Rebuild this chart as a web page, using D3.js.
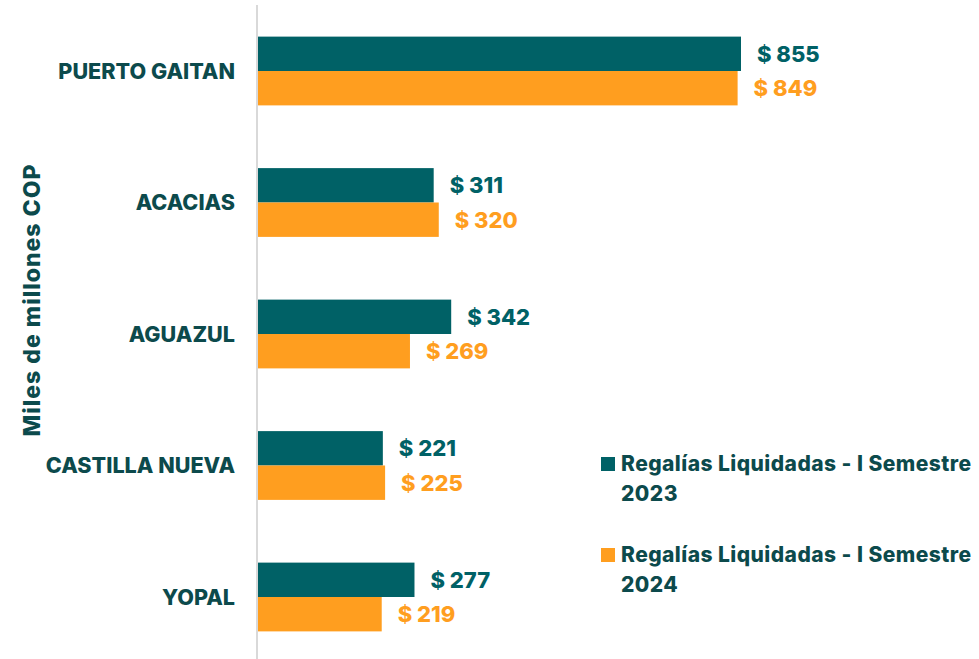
<!DOCTYPE html>
<html lang="en">
<head>
<meta charset="utf-8">
<title>Regalías Liquidadas</title>
<script src="https://d3js.org/d3.v7.min.js"></script>
<style>
  body { margin: 0; background: #ffffff; }
  svg text { font-family: Inter, "Open Sans", sans-serif; font-weight: 800; }
</style>
</head>
<body>
<div id="chart"></div>
<script>
// data
var municipios = ["PUERTO GAITAN", "ACACIAS", "AGUAZUL", "CASTILLA NUEVA", "YOPAL"];
var regalias2023 = [855, 311, 342, 221, 277];
var regalias2024 = [849, 320, 269, 225, 219];
var seriesNames = ["Regalías Liquidadas - I Semestre 2023", "Regalías Liquidadas - I Semestre 2024"];

var width = 979, height = 659;
var teal = "#006166", orange = "#FF9E1F", dark = "#0C4A4C";

var svg = d3.select("#chart").append("svg")
  .attr("width", width)
  .attr("height", height);

var x = d3.scaleLinear()
  .domain([0, 900])
  .range([258, 258 + 900 * 483 / 855]);

var y = d3.scaleBand()
  .domain(municipios)
  .range([5.25, 662.75])
  .paddingInner(0.477)
  .paddingOuter(0.2385);

var sub = d3.scaleBand()
  .domain([0, 1])
  .range([0, y.bandwidth()]);

var colors = [teal, orange];

var rows = municipios.map(function(m, i) {
  return { name: m, values: [regalias2023[i], regalias2024[i]] };
});

var groups = svg.selectAll("g.grupo")
  .data(rows)
  .enter().append("g")
  .attr("class", "grupo")
  .attr("transform", function(d) { return "translate(0," + y(d.name) + ")"; });

groups.selectAll("rect")
  .data(function(d) { return d.values; })
  .enter().append("rect")
  .attr("x", x(0))
  .attr("y", function(d, i) { return sub(i); })
  .attr("width", function(d) { return x(d) - x(0); })
  .attr("height", sub.bandwidth())
  .attr("fill", function(d, i) { return colors[i]; });

groups.selectAll("text.valor")
  .data(function(d) { return d.values; })
  .enter().append("text")
  .attr("class", "valor")
  .attr("x", function(d) { return x(d) + 16; })
  .attr("y", function(d, i) { return sub(i) + sub.bandwidth() / 2; })
  .attr("dy", "0.36em")
  .style("font-size", "22px")
  .attr("fill", function(d, i) { return colors[i]; })
  .text(function(d) { return "$ " + d; });

// axis line
svg.append("line")
  .attr("x1", x(0) - 1).attr("x2", x(0) - 1)
  .attr("y1", 5).attr("y2", height)
  .attr("stroke", "#d9d9d9")
  .attr("stroke-width", 2);

// category labels
svg.selectAll("text.cat")
  .data(municipios)
  .enter().append("text")
  .attr("class", "cat")
  .attr("x", 235)
  .attr("y", function(d) { return y(d) + y.bandwidth() / 2; })
  .attr("dy", "0.36em")
  .attr("text-anchor", "end")
  .style("font-size", "21.6px")
  .attr("fill", dark)
  .text(function(d) { return d; });

// y title
svg.append("text")
  .attr("transform", "translate(40,300) rotate(-90)")
  .attr("text-anchor", "middle")
  .style("font-size", "23px")
  .style("letter-spacing", "1px")
  .attr("fill", dark)
  .text("Miles de millones COP");

// legend
var legendY = [457, 548];
var legend = svg.selectAll("g.leyenda")
  .data(seriesNames)
  .enter().append("g")
  .attr("class", "leyenda")
  .attr("transform", function(d, i) { return "translate(601," + legendY[i] + ")"; });

legend.append("rect")
  .attr("width", 14).attr("height", 14)
  .attr("fill", function(d, i) { return colors[i]; });

var lt = legend.append("text")
  .style("font-size", "21px")
  .style("letter-spacing", "0.45px")
  .attr("fill", dark);
lt.append("tspan")
  .attr("x", 20).attr("y", 14)
  .text(function(d) { return d.slice(0, d.lastIndexOf(" ")); });
lt.append("tspan")
  .attr("x", 20).attr("y", 44)
  .text(function(d) { return d.slice(d.lastIndexOf(" ") + 1); });
</script>
</body>
</html>
